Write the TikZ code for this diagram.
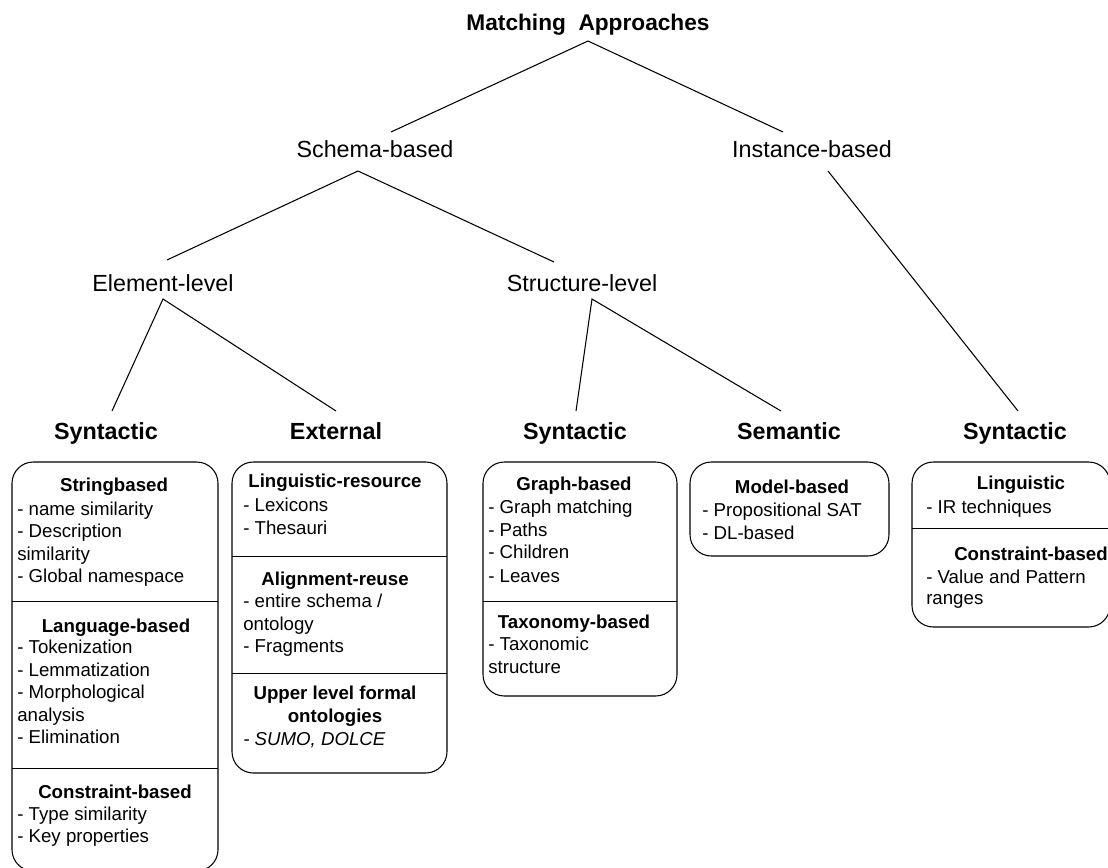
\documentclass[tikz,border=0pt]{standalone}
\usepackage{fontspec}
\setmainfont{Liberation Sans}
\begin{document}
\begin{tikzpicture}[x=0.75pt,y=-0.75pt,
  conn/.style={line width=0.8pt},
  box/.style={line width=0.8pt, rounded corners=16pt},
  sep/.style={line width=0.6pt},
  ttl/.style={font=\bfseries\fontsize{17}{20}\selectfont, inner sep=0pt, anchor=base},
  lvl/.style={font=\fontsize{17.5}{21}\selectfont, inner sep=0pt, anchor=base},
  cat/.style={font=\bfseries\fontsize{17.5}{21}\selectfont, inner sep=0pt, anchor=base},
  head/.style={font=\bfseries\fontsize{14}{17}\selectfont, inner sep=0pt, anchor=base},
  item/.style={font=\fontsize{14}{17}\selectfont, inner sep=0pt, anchor=base west}]
\useasboundingbox (0,0) rectangle (1108,868);
\fill[white] (0,0) rectangle (1108,868);
\clip (0,0) rectangle (1108,868);

% tree labels
\node[ttl] (root) at (588,30) {Matching~~Approaches};
\node[lvl] (schema) at (375,157) {Schema-based};
\node[lvl] (inst) at (812,157) {Instance-based};
\node[lvl] (elem) at (163,291) {Element-level};
\node[lvl] (struct) at (582,291) {Structure-level};
\node[cat] (syn1) at (106,439) {Syntactic};
\node[cat] (ext) at (336,439) {External};
\node[cat] (syn2) at (575,439) {Syntactic};
\node[cat] (sem) at (789,439) {Semantic};
\node[cat] (syn3) at (1015,439) {Syntactic};

% connector end points
\coordinate (root-b) at (588,41);
\coordinate (schema-t) at (391,132);
\coordinate (inst-t) at (783,132);
\coordinate (schema-b) at (358,171);
\coordinate (elem-t) at (167,260);
\coordinate (struct-t) at (554,262);
\coordinate (inst-b) at (828,171);
\coordinate (syn3-t) at (1018,411);
\coordinate (elem-b) at (163,299);
\coordinate (syn1-t) at (112,411);
\coordinate (ext-t) at (336,411);
\coordinate (struct-b) at (592,299);
\coordinate (syn2-t) at (576,411);
\coordinate (sem-t) at (781,411);

\draw[conn] (schema-t) -- (root-b) -- (inst-t);
\draw[conn] (elem-t) -- (schema-b) -- (struct-t);
\draw[conn] (inst-b) -- (syn3-t);
\draw[conn] (syn1-t) -- (elem-b) -- (ext-t);
\draw[conn] (syn2-t) -- (struct-b) -- (sem-t);

% box 1
\draw[box] (12,462) rectangle (218,871);
\draw[sep] (12,601) -- (218,601);
\draw[sep] (12,768) -- (218,768);
\node[head] (b1h1) at (114,491) {Stringbased};
\node[item] (b1i1) at (17,515) {- name similarity};
\node[item] (b1i2) at (17,537) {- Description};
\node[item] (b1i3) at (17,560) {similarity};
\node[item] (b1i4) at (17,582) {- Global namespace};
\node[head] (b1h2) at (116,632) {Language-based};
\node[item] (b1i5) at (17,653) {- Tokenization};
\node[item] (b1i6) at (17,676) {- Lemmatization};
\node[item] (b1i7) at (17,698) {- Morphological};
\node[item] (b1i8) at (17,721) {analysis};
\node[item] (b1i9) at (17,743) {- Elimination};
\node[head] (b1h3) at (115,798) {Constraint-based};
\node[item] (b1i10) at (17,820) {- Type similarity};
\node[item] (b1i11) at (17,842) {- Key properties};

% box 2
\draw[box] (232,462) rectangle (447,773);
\draw[sep] (232,556) -- (447,556);
\draw[sep] (232,673) -- (447,673);
\node[head] (b2h1) at (335,487) {Linguistic-resource};
\node[item] (b2i1) at (243,511) {- Lexicons};
\node[item] (b2i2) at (243,534) {- Thesauri};
\node[head] (b2h2) at (335,585) {Alignment-reuse};
\node[item] (b2i3) at (243,607) {- entire schema /};
\node[item] (b2i4) at (243,630) {ontology};
\node[item] (b2i5) at (243,652) {- Fragments};
\node[head] (b2h3) at (335,699) {Upper level formal};
\node[head] (b2h4) at (335,722) {ontologies};
\node[item, font=\itshape\fontsize{14}{17}\selectfont] (b2i6) at (243,745) {- SUMO, DOLCE};

% box 3
\draw[box] (483,462) rectangle (677,696);
\draw[sep] (483,601) -- (677,601);
\node[head] (b3h1) at (574,490) {Graph-based};
\node[item] (b3i1) at (488,513) {- Graph matching};
\node[item] (b3i2) at (488,536) {- Paths};
\node[item] (b3i3) at (488,558) {- Children};
\node[item] (b3i4) at (488,582) {- Leaves};
\node[head] (b3h2) at (574,628) {Taxonomy-based};
\node[item] (b3i5) at (488,650) {- Taxonomic};
\node[item] (b3i6) at (488,673) {structure};

% box 4
\draw[box] (690,462) rectangle (889,556);
\node[head] (b4h1) at (792,493) {Model-based};
\node[item] (b4i1) at (702,516) {- Propositional SAT};
\node[item] (b4i2) at (702,539) {- DL-based};

% box 5
\draw[box] (912,462) rectangle (1110,627);
\draw[sep] (912,528) -- (1110,528);
\node[head] (b5h1) at (1021,489) {Linguistic};
\node[item] (b5i1) at (926,513) {- IR techniques};
\node[head] (b5h2) at (1031,560) {Constraint-based};
\node[item] (b5i2) at (926,583) {- Value and Pattern};
\node[item] (b5i3) at (926,604) {ranges};
\end{tikzpicture}
\end{document}
